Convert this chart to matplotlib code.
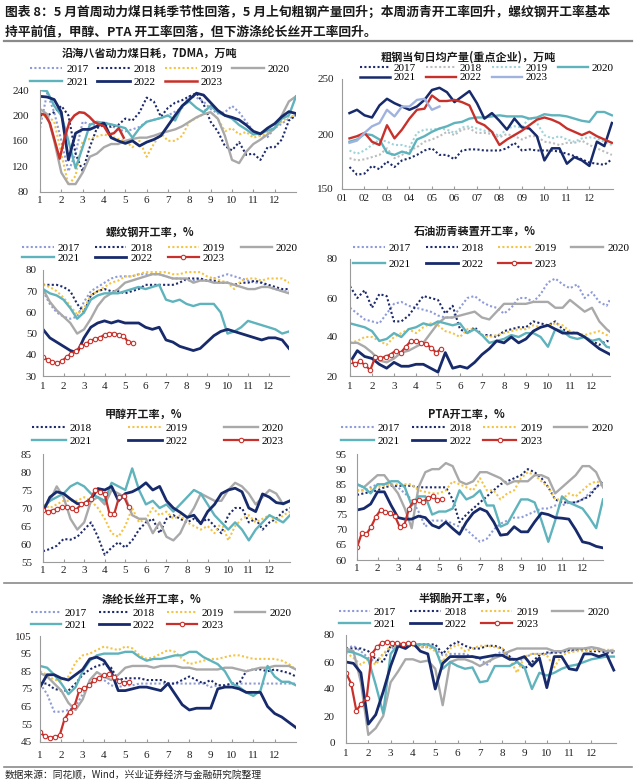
import numpy as np
import matplotlib.pyplot as plt
from matplotlib.lines import Line2D

plt.rcParams['font.family'] = ['Liberation Serif', 'Noto Sans CJK SC']
plt.rcParams['axes.linewidth'] = 0.8

W, H = 640, 781
CJK = ['Noto Sans CJK SC', 'DejaVu Sans']

months = list(range(1, 13))

# 沿海八省动力煤日耗（每 1/3 月取一点，2023 为周度）
coal_2017 = [180, 235, 205, 160, 112, 140, 190, 186, 185, 190, 184, 178, 175, 178, 182, 190, 193, 196,
             200, 206, 212, 230, 228, 222, 210, 203, 205, 215, 205, 190, 175, 168, 166, 180, 187, 195, 200]
coal_2018 = [200, 200, 205, 215, 200, 140, 112, 150, 180, 185, 182, 185, 195, 192, 205, 228, 222, 198,
             212, 220, 224, 230, 235, 218, 190, 175, 152, 145, 158, 138, 140, 130, 150, 150, 162, 192, 200]
coal_2019 = [195, 200, 190, 140, 90, 105, 160, 163, 167, 170, 167, 163, 160, 150, 160, 135, 155, 172,
             160, 160, 168, 190, 196, 202, 205, 195, 175, 180, 170, 174, 165, 168, 172, 180, 190, 198, 200]
coal_2020 = [210, 202, 160, 110, 92, 92, 110, 135, 140, 150, 155, 155, 160, 163, 165, 165, 168, 172,
             175, 178, 183, 190, 197, 202, 205, 195, 168, 130, 125, 143, 155, 162, 170, 180, 200, 222, 230]
coal_2021 = [240, 238, 215, 200, 160, 117, 150, 185, 190, 188, 186, 183, 180, 165, 180, 190, 193, 196,
             200, 192, 215, 222, 212, 205, 215, 205, 200, 195, 185, 178, 170, 172, 176, 180, 195, 200, 230]
coal_2022 = [230, 229, 225, 205, 130, 172, 178, 178, 183, 188, 165, 160, 156, 160, 152, 158, 162, 168,
             184, 200, 215, 225, 235, 232, 220, 208, 200, 197, 193, 185, 175, 171, 180, 187, 198, 206, 203]
coal_2023 = [203, 201, 188, 160, 132, 165, 190, 200, 205, 204, 198, 190, 186, 183, 170, 172, 180, 165]

# 粗钢旬度日均产量（重点企业）
steel_2017 = [170, 163, 164, 171, 168, 175, 170, 176, 178, 181, 185, 187, 181, 181, 177, 185, 186, 186,
              185, 185, 185, 187, 192, 185, 186, 185, 185, 185, 184, 182, 180, 177, 174, 173, 172, 177]
steel_2018 = [178, 176, 177, 179, 181, 187, 178, 181, 185, 188, 193, 195, 198, 202, 199, 204, 205, 201,
              201, 200, 197, 200, 198, 195, 198, 198, 193, 192, 190, 192, 192, 194, 190, 187, 184, 181]
steel_2019 = [185, 182, 185, 190, 195, 193, 190, 190, 188, 201, 204, 204, 205, 204, 201, 206, 207, 205,
              203, 202, 198, 205, 207, 206, 215, 210, 199, 196, 198, 195, 193, 196, 197, 196, 193, 190]
steel_2020 = [193, 195, 200, 199, 195, 183, 181, 184, 182, 195, 198, 202, 205, 207, 210, 211, 214, 215,
              215, 216, 217, 216, 216, 216, 214, 215, 218, 217, 217, 216, 214, 212, 211, 220, 220, 217]
steel_2021 = [219, 222, 217, 215, 226, 232, 228, 225, 222, 225, 231, 240, 242, 238, 229, 234, 239, 228,
              214, 219, 212, 204, 214, 206, 205, 198, 176, 187, 187, 173, 179, 176, 171, 193, 189, 210]
steel_2022 = [196, 198, 201, 193, 190, 208, 196, 204, 214, 222, 223, 235, 230, 230, 231, 229, 226, 211,
              208, 202, 190, 195, 199, 203, 208, 213, 215, 213, 210, 205, 202, 199, 202, 198, 195, 192]
steel_2023 = [192, 194, 201, 207, 210, 222, 216, 225, 225, 231, 232, 222, 225]

# 螺纹钢开工率
rebar_2017 = [70, 64, 60, 58, 57, 58, 65, 70, 72, 74, 76, 77, 77, 77, 78, 78, 78, 78,
              77, 76, 76, 75, 75, 76, 75, 76, 77, 78, 77, 76, 75, 74, 74, 72, 71, 70, 70]
rebar_2018 = [73, 73, 73, 72, 70, 64, 60, 68, 70, 71, 70, 70, 69, 70, 71, 73, 73, 73,
              73, 73, 74, 76, 76, 76, 75, 75, 74, 74, 73, 74, 74, 75, 74, 73, 72, 71, 71]
rebar_2019 = [73, 72, 70, 67, 63, 59, 62, 68, 70, 72, 74, 75, 77, 77, 78, 79, 79, 79,
              79, 78, 78, 79, 79, 79, 77, 76, 75, 74, 71, 75, 76, 76, 75, 76, 76, 76, 74]
rebar_2020 = [71, 65, 61, 58, 55, 50, 52, 57, 63, 67, 69, 71, 74, 75, 76, 77, 78, 78,
              77, 76, 76, 76, 74, 75, 75, 74, 74, 74, 73, 72, 71, 71, 72, 72, 71, 70, 69]
rebar_2021 = [71, 69, 68, 66, 62, 57, 60, 66, 68, 69, 69, 69, 70, 71, 72, 71, 72, 73,
              66, 65, 66, 64, 63, 64, 64, 64, 60, 50, 51, 53, 56, 55, 54, 53, 52, 50, 51]
rebar_2022 = [52, 48, 46, 44, 42, 41, 48, 53, 55, 56, 55, 56, 55, 55, 55, 53, 52, 53,
              47, 46, 44, 43, 42, 43, 46, 49, 51, 52, 51, 50, 49, 48, 47, 48, 48, 47, 43]
rebar_2023 = [39, 37.5, 36.5, 36, 37, 39, 40.5, 42, 44, 45, 46.5, 47.5, 48, 49.5, 50, 50, 49.5, 49, 46, 45.5]

# 石油沥青装置开工率
asph_2017 = [55, 52, 49, 48, 47, 52, 57, 58, 56, 55, 54, 53, 51, 50, 50, 55, 60, 61,
             58, 56, 55, 52, 55, 60, 60, 58, 62, 68, 70, 67, 65, 67, 60, 63, 58, 56, 63]
asph_2018 = [66, 60, 64, 55, 62, 61, 48, 48, 51, 56, 61, 60, 59, 52, 56, 44, 42, 45,
             41, 41, 40, 43, 44, 45, 45, 48, 47, 46, 48, 44, 42, 42, 40, 38, 36, 38, 37]
asph_2019 = [37, 38, 40, 40, 38, 36, 40, 42, 44, 42, 45, 47, 46, 43, 42, 40, 44, 44,
             41, 40, 41, 42, 43, 44, 44, 46, 45, 46, 47, 46, 43, 42, 41, 42, 43, 41, 40]
asph_2020 = [37, 37, 35, 32, 28, 27, 29, 32, 33, 35, 37, 42, 47, 50, 50, 51, 52, 53,
             50, 49, 53, 57, 57, 57, 57, 58, 58, 58, 55, 55, 59, 56, 53, 55, 48, 44, 41]
asph_2021 = [47, 46, 45, 43, 38, 39, 42, 40, 44, 45, 47, 46, 48, 47, 46, 47, 42, 44,
             41, 37, 38, 39, 41, 40, 42, 42, 40, 35, 44, 43, 40, 39, 40, 38, 39, 35, 34]
asph_2022 = [27, 33, 30, 29, 26, 24, 27, 25, 25, 26, 26, 24, 22, 32, 24, 25, 24, 27,
             31, 34, 38, 37, 40, 37, 39, 43, 45, 46, 44, 42, 42, 42, 40, 37, 34, 32, 30]
asph_2023 = [27.5, 26, 27.5, 25.5, 23, 30, 29, 30, 31, 33, 32, 35, 38, 37.8, 37, 36.4, 34.4, 32, 34]

# 甲醇开工率
meth_2018 = [58, 58.6, 59.5, 61.4, 61.2, 62, 64, 66, 62, 57, 59, 60.5, 59, 61, 64, 66, 67, 63,
             67, 68, 67, 66, 67, 66, 67, 65, 63, 68, 70, 70, 66, 67, 64, 66, 67, 69, 70]
meth_2019 = [71, 70, 71, 72, 72, 72, 73, 72, 70, 67, 63, 62, 65, 70, 66, 67, 70, 68,
             69, 67, 68, 66, 65, 64, 65, 63, 66, 61, 65, 67, 68, 66, 67, 68, 66, 68, 69]
meth_2020 = [70, 72, 76, 73, 67, 64, 66, 72, 73, 71, 75, 74, 73, 68, 67, 67, 63, 66,
             62, 61, 63, 67, 70, 74, 73, 72, 72, 75, 77, 76, 74, 71, 73, 75, 74, 71, 72]
meth_2021 = [70, 72, 73, 74, 76, 77, 76, 74, 73, 72, 77, 76, 75, 81, 75, 71, 72, 70,
             71, 69, 71, 73, 75, 74, 71, 68, 66, 64, 66, 64, 61, 64, 66, 68, 67, 66, 68]
meth_2022 = [69, 73, 74.5, 74, 72.5, 71.2, 71.2, 72.5, 75.4, 75, 76, 72, 74, 74.5, 75.5, 77, 75, 76,
             72, 70, 68.8, 67.4, 68, 65.6, 69, 71, 74, 75, 75.5, 74.5, 70, 69, 73.9, 73, 71.5, 71.2, 72]
meth_2023 = [69.5, 69, 69.3, 69.8, 70.2, 70.3, 70, 69.5, 71, 71.5, 72.5, 75, 74.5, 73.8, 68.4, 68.4,
             73, 73.3, 70.3]

# PTA 开工率
pta_2017 = [83, 83, 84, 85, 85, 85, 84, 82, 80, 76, 71, 73, 73, 73, 72, 71, 70, 68,
            66, 67, 70, 72, 73, 74, 74, 75, 76, 77, 77, 78, 78, 79, 79, 80, 82, 84, 85]
pta_2018 = [81.5, 82, 82.5, 83, 84, 84.5, 84.5, 84.5, 84.5, 84, 84, 84, 84, 84, 80, 72.5, 75, 77,
            79, 81, 83, 85, 86, 87, 88, 90, 89, 87, 84, 80, 79, 79, 79, 80, 81, 84, 86]
pta_2019 = [83, 83, 83.5, 84, 84.5, 85, 85, 85, 85, 83, 82.5, 82, 82, 83, 86, 85, 84, 83,
            87, 83, 83, 80, 82, 83, 87, 89, 88, 86, 84, 80, 80, 82, 81, 83, 85, 86, 85]
pta_2020 = [85, 84, 86, 88, 88, 85, 82, 77, 70.5, 84, 89, 90, 90, 92, 91, 86, 85, 86,
            89, 89, 88, 87, 85, 86, 86, 86, 88, 88, 87, 82, 84, 86, 88, 91, 91, 89, 84]
pta_2021 = [85, 84, 82, 85, 85, 86, 86, 84, 78, 81, 81, 75, 76, 76, 77, 83, 80, 81,
            83, 78, 78, 71, 72, 76, 80, 80, 79, 73, 66, 73, 81, 79, 78, 77, 74, 70.5, 80]
pta_2022 = [76.5, 77, 78.5, 82.5, 82.5, 78, 74, 73.5, 73.5, 74.5, 74, 71.5, 70.6, 72.5, 70.4, 68.5, 72.5, 75.5,
            77, 76, 72.6, 68.2, 68.5, 71, 69.3, 69.3, 72.6, 75.5, 75, 74, 73.8, 73.5, 70, 66, 65.5, 64.5, 64]
pta_2023 = [64.2, 68.8, 68.5, 71, 74.3, 76.5, 76, 75.4, 74.6, 71, 71.5, 77, 79.5, 79.8, 79.3, 80.4, 81,
            79.8, 80.1]

# 涤纶长丝开工率
fil_2017 = [78, 72, 62, 62, 63, 65, 72, 78, 80, 80, 77, 76, 77, 77, 78, 78, 78, 78,
            78, 78, 78, 78, 78, 78, 76, 77, 77, 78, 78, 78, 78, 78, 78, 78, 78, 78, 78]
fil_2018 = [78, 78, 75, 74, 74, 78, 83, 86, 88, 89, 87, 80, 81, 81, 81, 80, 80, 80,
            78, 78, 80, 82, 80, 78, 80, 77, 77, 78, 78, 85, 86, 86, 85, 86, 85, 84, 82]
fil_2019 = [85, 83, 80, 80, 82, 90, 94, 95, 97, 99, 98, 97, 99, 98, 94, 92, 93, 95,
            97, 96, 92, 89, 90, 91, 92, 92, 93, 94, 94, 93, 92, 92, 92, 92, 91, 89, 86]
fil_2020 = [84, 82, 78, 74, 67, 63, 69, 80, 84.5, 82, 80, 83, 87, 88, 88, 88, 87, 88,
            88, 88, 87, 87, 86, 86, 86, 86, 87, 87, 86, 85, 86, 87, 87, 88, 88, 88, 86]
fil_2021 = [88, 87, 83, 78, 72, 76, 85, 91, 94, 95, 95, 95, 96, 96, 93, 91, 92, 92,
            93, 94, 94, 96, 96, 93, 91, 89, 85, 78, 76, 73, 71, 74, 88, 82, 79, 79, 77]
fil_2022 = [76, 83, 83, 81, 80, 83, 86, 92, 93, 91, 85, 74, 74, 75, 76, 76, 75, 74,
            78, 72, 66, 63, 64, 64, 64, 75, 76, 76, 75, 73, 73, 73, 65, 61, 59, 56, 53]
fil_2023 = [50.5, 48, 47.3, 47.7, 48.6, 58, 62, 65.3, 74.3, 75.2, 77, 80, 81.3, 82.8, 83.4, 81.9,
            79.4, 78.6, 79]

# 半钢胎开工率
tire_2017 = [70, 72, 68, 63, 60, 66, 70, 72, 72, 72, 71, 71, 70, 65, 66, 66, 66, 64,
             62, 58, 65, 68, 64, 60, 63, 66, 66, 66, 67, 68, 68, 69, 70, 70, 69, 68, 69]
tire_2018 = [70, 70, 70, 68, 62, 60, 72, 72, 72, 73, 73, 73, 73, 66, 72, 75, 72, 70,
             70, 72, 72, 70, 64, 60, 55, 60, 65, 67, 67, 67, 69, 69, 69, 68, 68, 67, 67]
tire_2019 = [67, 63, 58, 62, 58, 66, 72, 72, 72, 72, 71, 71, 68, 60, 70, 73, 68, 70,
             72, 72, 71, 70, 62, 52, 64, 66, 66, 65, 56, 65, 67, 68, 68, 69, 69, 69, 69]
tire_2020 = [70, 68, 45, 6, 11, 20, 45, 53, 62, 62, 60, 61, 55, 28, 60, 62, 62, 60,
             57, 60, 63, 65, 68, 70, 70, 70, 70, 70, 68, 68, 70, 70, 70, 71, 70, 68, 68]
tire_2021 = [68, 67, 65, 62, 43, 22, 66, 73, 73, 73, 73, 73, 70, 55, 60, 57, 55, 56,
             45, 46, 57, 57, 57, 60, 56, 40, 52, 50, 52, 55, 57, 58, 60, 62, 63, 64, 64]
tire_2022 = [60, 59, 52, 14, 21, 38, 57, 72, 70, 74, 68, 66, 40, 59, 64, 64, 64, 64,
             63, 64, 65, 65, 62, 62, 64, 57, 63, 41, 64, 64, 55, 54, 66, 66, 64, 66, 54]
tire_2023 = [52, 44, 24, 29, 33, 66, 71, 74, 75, 74, 74, 73, 74, 74]


def full_x(vals):
    return np.linspace(1, 13, len(vals))


def xun_x(vals):
    return 4 / 3 + np.arange(len(vals)) / 3


def week_x(vals):
    return 1 + np.arange(len(vals)) * 12 / 52


dotted = (0, (1, 1.1))
base = {
    '2017': dict(color='#8E9BD9', ls=dotted, lw=1.5),
    '2018': dict(color='#1E2B6B', ls=dotted, lw=1.5),
    '2019': dict(color='#F3C445', ls=dotted, lw=1.5),
    '2020': dict(color='#A9A9A9', ls='-', lw=1.7),
    '2021': dict(color='#5FB3BC', ls='-', lw=1.7),
    '2022': dict(color='#172A6B', ls='-', lw=2.0),
    '2023': dict(color='#C8312B', ls='-', lw=1.6, marker='o', ms=3.2, mfc='white', mew=0.8),
}
coal_style = dict(base)
coal_style['2023'] = dict(color='#C8312B', ls='-', lw=1.8)
steel_style = {
    '2017': dict(color='#1E2B6B', ls=dotted, lw=1.5),
    '2018': dict(color='#BDBDBD', ls=dotted, lw=1.5),
    '2019': dict(color='#9FD3D9', ls=dotted, lw=1.5),
    '2020': dict(color='#5FB3BC', ls='-', lw=1.7),
    '2021': dict(color='#172A6B', ls='-', lw=1.8),
    '2022': dict(color='#C8312B', ls='-', lw=1.7),
    '2023': dict(color='#A0B3DF', ls='-', lw=1.7),
}

fig = plt.figure(figsize=(W / 100, H / 100), dpi=100)


def fbox(left, top, right, bottom):
    return [left / W, 1 - bottom / H, (right - left) / W, (bottom - top) / H]


def panel(series, styles, box, ylim, yticks, title, title_xy, leg_xy, ncol,
          xlim=(1, 13), xlabels=None, ypad=10, xpad=5, leg_kw=None):
    ax = fig.add_axes(fbox(*box))
    handles = []
    for yr, vals, xf in series:
        ln, = ax.plot(xf(vals), vals, label=yr, **styles[yr])
        handles.append(ln)
    ax.set_xlim(*xlim)
    ax.set_ylim(*ylim)
    ax.set_yticks(yticks)
    ax.set_xticks(months, xlabels if xlabels else [str(m) for m in months])
    for s in ['top', 'right']:
        ax.spines[s].set_visible(False)
    for s in ['left', 'bottom']:
        ax.spines[s].set_color('#9b9b9b')
    ax.tick_params(axis='y', length=0, pad=ypad * 0.72, labelsize=8, labelcolor='#222222')
    ax.tick_params(axis='x', direction='in', length=2.5, color='#9b9b9b', pad=xpad * 0.72,
                   labelsize=8, labelcolor='#222222')
    row1, row2 = handles[:ncol], handles[ncol:]
    order = []
    for i in range(ncol):
        order.append(row1[i])
        if i < len(row2):
            order.append(row2[i])
    kw = dict(handlelength=2.9, columnspacing=1.0, labelspacing=0.3)
    kw.update(leg_kw or {})
    ax.legend(order, [h.get_label() for h in order], loc='center',
              bbox_to_anchor=(leg_xy[0] / W, 1 - leg_xy[1] / H), bbox_transform=fig.transFigure,
              ncol=ncol, frameon=False, fontsize=8, handletextpad=0.35, borderpad=0,
              borderaxespad=0, **kw)
    fig.text(title_xy[0] / W, 1 - title_xy[1] / H, title, ha='center', va='center',
             fontsize=8, fontweight='bold', family=CJK, color='#1a1a1a')
    return ax


yrs = ['2017', '2018', '2019', '2020', '2021', '2022', '2023']

panel(list(zip(yrs, [coal_2017, coal_2018, coal_2019, coal_2020, coal_2021, coal_2022, coal_2023],
               [full_x] * 6 + [week_x])),
      coal_style, (40, 90, 296, 191.7), (80, 240), [80, 120, 160, 200, 240],
      '沿海八省动力煤日耗，7DMA，万吨', (150, 53), (160, 75.5), 4, ypad=11, xpad=4,
      leg_kw=dict(handlelength=2.9, columnspacing=0.8, labelspacing=0.3))

panel(list(zip(yrs, [steel_2017, steel_2018, steel_2019, steel_2020, steel_2021, steel_2022, steel_2023],
               [xun_x] * 7)),
      steel_style, (342, 79, 613, 189), (150, 250), [150, 200, 250],
      '粗钢当旬日均产量(重点企业)，万吨', (468, 57), (487, 73), 4, xlim=(1, 13.05),
      xlabels=['%02d' % m for m in months], ypad=8, xpad=5,
      leg_kw=dict(handlelength=2.7, columnspacing=0.9, labelspacing=-0.05))

panel(list(zip(yrs, [rebar_2017, rebar_2018, rebar_2019, rebar_2020, rebar_2021, rebar_2022, rebar_2023],
               [full_x] * 6 + [week_x])),
      base, (43, 270, 289, 376), (30, 80), [30, 40, 50, 60, 70, 80],
      '螺纹钢开工率，%', (150, 232), (160, 253), 4, ypad=6, xpad=6,
      leg_kw=dict(handlelength=2.8, columnspacing=1.4, labelspacing=0.05))

panel(list(zip(yrs, [asph_2017, asph_2018, asph_2019, asph_2020, asph_2021, asph_2022, asph_2023],
               [full_x] * 6 + [week_x])),
      base, (350, 259, 610, 376), (20, 80), [20, 40, 60, 80],
      '石油沥青装置开工率，%', (475, 231), (491, 256), 4, xlim=(1, 12.82), ypad=12, xpad=6,
      leg_kw=dict(handlelength=2.9, columnspacing=1.3, labelspacing=0.6))

panel(list(zip(yrs[1:], [meth_2018, meth_2019, meth_2020, meth_2021, meth_2022, meth_2023],
               [full_x] * 5 + [week_x])),
      base, (43, 454, 290, 562), (55, 85), [55, 60, 65, 70, 75, 80, 85],
      '甲醇开工率，%', (143, 414), (158, 434.5), 3, ypad=11, xpad=4,
      leg_kw=dict(handlelength=3.0, columnspacing=3.3, labelspacing=0.3))

panel(list(zip(yrs, [pta_2017, pta_2018, pta_2019, pta_2020, pta_2021, pta_2022, pta_2023],
               [full_x] * 6 + [week_x])),
      base, (357, 454, 603, 560), (60, 95), [60, 65, 70, 75, 80, 85, 90, 95],
      'PTA开工率，%', (466, 414), (477, 434.5), 4, ypad=10, xpad=4,
      leg_kw=dict(handlelength=3.0, columnspacing=1.05, labelspacing=0.3))

panel(list(zip(yrs, [fil_2017, fil_2018, fil_2019, fil_2020, fil_2021, fil_2022, fil_2023],
               [full_x] * 6 + [week_x])),
      base, (40, 636, 296, 741.7), (45, 105), [45, 55, 65, 75, 85, 95, 105],
      '涤纶长丝开工率，%', (152, 599), (161, 619), 4, ypad=8, xpad=9,
      leg_kw=dict(handlelength=2.7, columnspacing=1.1, labelspacing=0.22))

panel(list(zip(yrs, [tire_2017, tire_2018, tire_2019, tire_2020, tire_2021, tire_2022, tire_2023],
               [full_x] * 6 + [week_x])),
      base, (346, 635, 616, 743), (0, 80), [0, 20, 40, 60, 80],
      '半钢胎开工率，%', (463, 598), (474, 618), 4, xlim=(1, 13.1), ypad=11, xpad=6,
      leg_kw=dict(handlelength=2.8, columnspacing=1.26, labelspacing=0.22))

# 标题、分隔线与来源
fig.text(5 / W, 1 - 12.5 / H,
         '图表 8：5 月首周动力煤日耗季节性回落，5 月上旬粗钢产量回升；本周沥青开工率回升，螺纹钢开工率基本',
         fontsize=9.2, fontweight='bold', family=CJK, va='center', ha='left', color='#1a1a1a')
fig.text(5 / W, 1 - 32 / H, '持平前值，甲醇、PTA 开工率回落，但下游涤纶长丝开工率回升。',
         fontsize=9.2, fontweight='bold', family=CJK, va='center', ha='left', color='#1a1a1a')
for yy, lw in [(40.5, 1.6), (583, 1.2), (767, 1.2)]:
    fig.add_artist(Line2D([4 / W, 632 / W], [1 - yy / H, 1 - yy / H], transform=fig.transFigure,
                          color='#8a8a8a', lw=lw))
fig.text(5 / W, 1 - 775 / H, '数据来源：同花顺，Wind，兴业证券经济与金融研究院整理',
         fontsize=7, family=CJK, va='center', ha='left', color='#222222')

fig.savefig('out.png', dpi=100)
